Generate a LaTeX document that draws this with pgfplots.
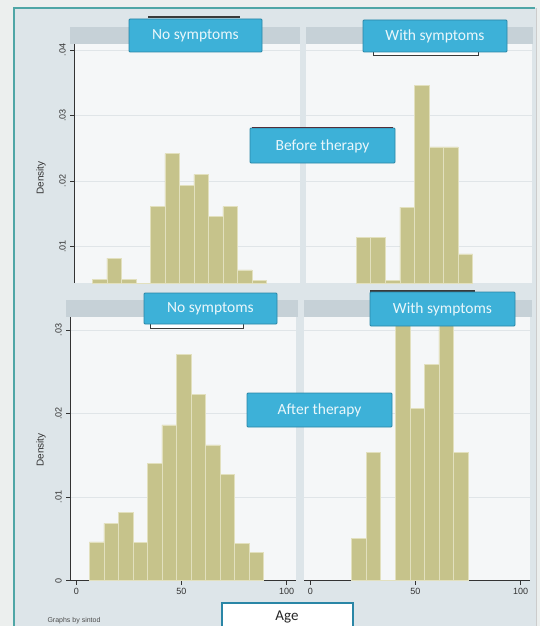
\documentclass[border=0pt]{standalone}
\usepackage{fontspec}
\setmainfont{Liberation Sans}
\setsansfont{Liberation Sans}
\newfontfamily\calfont{Carlito}
\usepackage{pgfplots}
\pgfplotsset{compat=1.18}
\definecolor{outbg}{HTML}{ECEFEE}
\definecolor{panelbg}{HTML}{DDE5E9}
\definecolor{stripc}{HTML}{C6D1D7}
\definecolor{plotbg}{HTML}{F5F7F8}
\definecolor{gridc}{HTML}{E0E5E8}
\definecolor{framec}{HTML}{4FA6A6}
\definecolor{axc}{HTML}{333333}
\definecolor{tickc}{HTML}{333333}
\definecolor{barfill}{HTML}{C6C38B}
\definecolor{barline}{HTML}{E2E0BE}
\definecolor{labfill}{HTML}{3DB1D8}
\definecolor{labdraw}{HTML}{2A86A6}
\definecolor{labtext}{HTML}{EAF7FB}
\definecolor{remn}{HTML}{3A3A3A}
\pgfplotsset{
  hist/.style={
    scale only axis, anchor=north west,
    width=226pt,
    axis lines*=left,
    axis background/.style={fill=plotbg},
    ymajorgrids,
    scaled y ticks=false, scaled x ticks=false,
    major grid style={draw=gridc, line width=0.7pt},
    axis line style={draw=axc, line width=0.6pt},
    tick style={draw=axc, line width=0.6pt},
    tick align=outside, major tick length=4pt,
    tick label style={font=\fontsize{9}{9}\selectfont, text=tickc},
    yticklabel style={rotate=90, anchor=south, inner sep=4pt},
    xticklabel style={inner sep=3.5pt},
    /pgf/number format/assume math mode=true,
    xmin=-3, xmax=104.5,
  },
  bars/.style={ybar interval, fill=barfill, draw=barline, line width=0.5pt},
}
\tikzset{
  lab/.style={fill=labfill, draw=labdraw, line width=0.8pt, rounded corners=1pt},
  labt/.style={text=labtext, font=\calfont\fontsize{15.5}{15.5}\selectfont},
}
\begin{document}
\begin{tikzpicture}[x=1pt,y=-1pt]
\fill[outbg] (0,0) rectangle (540,626);
\fill[panelbg] (14,8) rectangle (536,626);
\draw[framec, line width=1.8pt] (14,626) -- (14,8) -- (535,8);
\draw[gray!40, line width=0.6pt] (536,8) -- (536,626);
% strips
\fill[stripc] (70,27) rectangle (300,44);
\fill[stripc] (306,27) rectangle (533,44);
\fill[stripc] (66,300) rectangle (298,317);
\fill[stripc] (304,300) rectangle (532,317);

% top-left: before therapy, no symptoms
\begin{axis}[hist, at={(74pt,-44pt)}, height=239pt,
  ymin=0.00444, ymax=0.0409,
  ytick={0.01,0.02,0.03,0.04}, yticklabels={.01,.02,.03,.04},
  xtick=\empty, x axis line style={draw=none}]
\addplot[bars] coordinates {(5.7,0.00504) (12.6,0.00823) (19.5,0.00504) (26.4,0) (33.3,0.01608) (40.2,0.02419) (47.1,0.01938) (54.0,0.0210) (60.9,0.01456) (67.8,0.01608) (74.7,0.00646) (81.6,0.0048) (88.5,0.0048)};
\end{axis}

% top-right: before therapy, with symptoms
\begin{axis}[hist, at={(306pt,-44pt)}, height=239pt,
  ymin=0.00444, ymax=0.0409,
  ytick={0.01,0.02,0.03,0.04}, yticklabels={,,,},
  ytick style={draw=none}, y axis line style={draw=none},
  xtick=\empty, x axis line style={draw=none}]
\addplot[bars] coordinates {(20.8,0.0114) (27.7,0.0114) (34.7,0.0048) (41.6,0.016) (48.6,0.0346) (55.5,0.0252) (62.4,0.0252) (69.4,0.0089) (76.3,0.0089)};
\end{axis}

% bottom-left: after therapy, no symptoms
\begin{axis}[hist, at={(70pt,-317pt)}, height=263.5pt,
  ymin=0, ymax=0.03156,
  ytick={0,0.01,0.02,0.03}, yticklabels={0,.01,.02,.03},
  xtick={0,50,100}, xticklabels={0,50,100}]
\addplot[bars] coordinates {(6.2,0.00464) (13.1,0.00685) (20.0,0.00815) (26.9,0.00456) (33.8,0.01399) (40.7,0.01863) (47.6,0.0271) (54.5,0.02226) (61.4,0.01625) (68.3,0.0127) (75.2,0.00444) (82.1,0.00335) (89.0,0.00335)};
\end{axis}

% bottom-right: after therapy, with symptoms
\begin{axis}[hist, at={(304pt,-317pt)}, height=263.5pt,
  ymin=0, ymax=0.03156,
  ytick={0,0.01,0.02,0.03}, yticklabels={,,,},
  ytick style={draw=none}, y axis line style={draw=none},
  xtick={0,50,100}, xticklabels={0,50,100}]
\addplot[bars] coordinates {(19.7,0.00506) (26.6,0.01538) (33.5,0) (40.4,0.04) (47.3,0.02065) (54.2,0.0259) (61.1,0.04) (68.0,0.01538) (74.9,0.01538)};
\end{axis}

% y labels
\node[rotate=90, font=\fontsize{10}{10}\selectfont, text=tickc] at (41,178) {Density};
\node[rotate=90, font=\fontsize{10}{10}\selectfont, text=tickc] at (41,450) {Density};

% remnant boxes / lines
\draw[remn, line width=1.2pt] (148,17) -- (240,17);
\draw[remn, fill=white, line width=0.8pt] (373,49) rectangle (478,55);
\draw[black!60!red, line width=0.8pt] (252,127) -- (393,127);
\draw[remn, fill=white, line width=0.8pt] (150,318) rectangle (243,328);
\draw[remn, line width=1.2pt] (370,291) -- (475,291);

% label boxes
\draw[lab] (129,19) rectangle (262,52);
\node[labt] at (195.5,36) {No symptoms};
\draw[lab] (363,20) rectangle (507,52);
\node[labt] at (435,36.5) {With symptoms};
\draw[lab] (250,128) rectangle (395,163);
\node[labt] at (322.5,146) {Before therapy};
\draw[lab] (144,293) rectangle (277,324);
\node[labt] at (210.5,309) {No symptoms};
\draw[lab] (370,292) rectangle (515,326);
\node[labt] at (442.5,309.5) {With symptoms};
\draw[lab] (247,393) rectangle (392,427);
\node[labt] at (319.5,410.5) {After therapy};

% Age box
\draw[fill=white, draw=labdraw, line width=1.2pt] (222,603) rectangle (353,632);
\node[font=\calfont\fontsize{15}{15}\selectfont, text=black!85] at (287,617) {Age};
\node[anchor=west, font=\fontsize{7}{7}\selectfont, text=black!70] at (44,620.5) {Graphs by sintod};

\pgfresetboundingbox
\useasboundingbox (0,0) rectangle (540,626);
\end{tikzpicture}
\end{document}
